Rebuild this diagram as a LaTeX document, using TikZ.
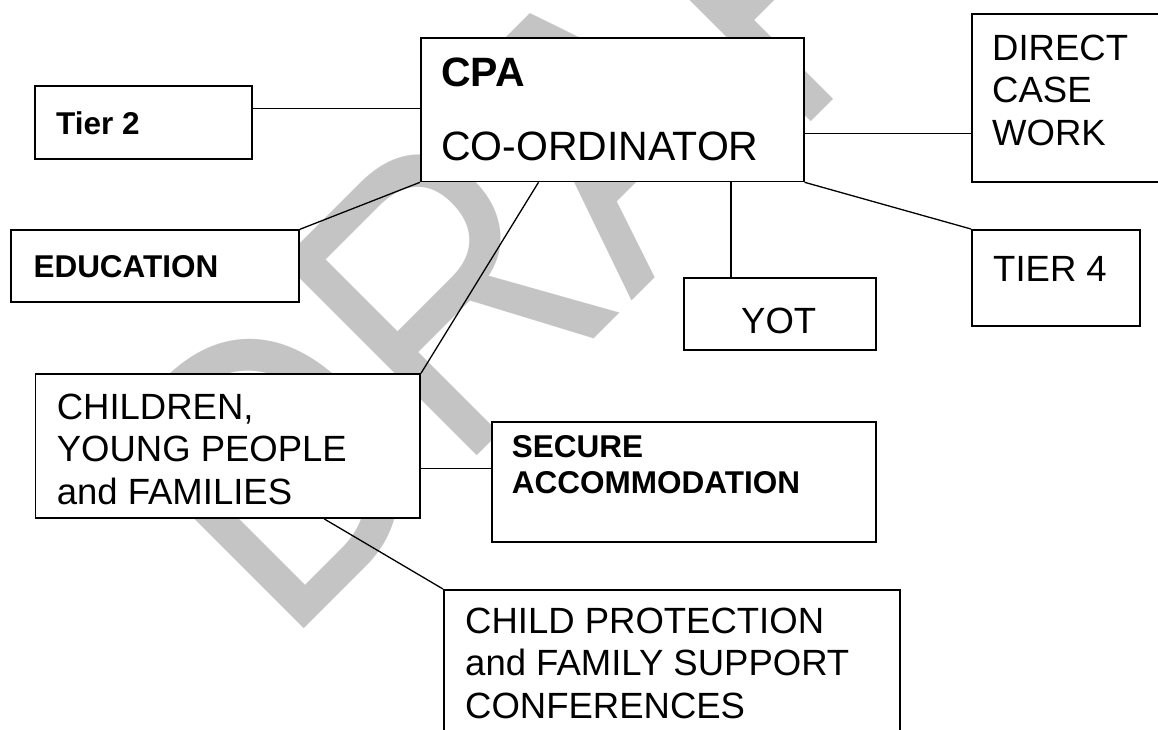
\documentclass[tikz,border=0pt]{standalone}
\usepackage{fontspec}
\setmainfont{Liberation Sans}
\usepackage{tikz}
\usetikzlibrary{calc}
\usetikzlibrary{positioning}
\definecolor{watermark}{RGB}{196,196,196}

\begin{document}
\begin{tikzpicture}[
x=1pt,y=-1pt,
MyBoxes/.style={draw=black,fill=white,line width=1.6pt,inner sep=0pt,anchor=north west},
Links/.style={draw=black,line width=1.3pt},
PlainText/.style={anchor=base west,inner sep=0pt,align=left,font=\fontsize{36.5}{42.5}\selectfont},
BoldText/.style={anchor=base west,inner sep=0pt,align=left,font=\fontsize{31.5}{36}\selectfont\bfseries},
MainText/.style={anchor=base west,inner sep=0pt,align=left,font=\fontsize{41}{47}\selectfont}
]
%\draw[gray,step=50,dotted] (0,0) grid (1158,729);
\useasboundingbox (0,0) rectangle (1158,729);
\clip (0,0) rectangle (1158,729);

\node[rotate=45,xscale=0.85,anchor=base west,inner sep=0pt,text=watermark,font=\fontsize{400}{400}\selectfont] (draft) at (284,649) {DRAFT};

% boxes
\node[MyBoxes,minimum width=217pt,minimum height=73pt] (tier2) at (34.4,85) {};
\node[MyBoxes,minimum width=383pt,minimum height=143.4pt] (cpa) at (420,37.3) {};
\node[MyBoxes,minimum width=220pt,minimum height=167.7pt] (direct) at (971,13.3) {};
\node[MyBoxes,minimum width=288pt,minimum height=71.7pt] (edu) at (10.3,229.3) {};
\node[MyBoxes,minimum width=168.3pt,minimum height=96pt] (tier4) at (971,229) {};
\node[MyBoxes,minimum width=192.4pt,minimum height=72.3pt] (yot) at (683,277) {};
\node[MyBoxes,minimum width=384.6pt,minimum height=144pt] (children) at (34.8,373.3) {};
\node[MyBoxes,minimum width=384.4pt,minimum height=119.7pt] (secure) at (491,421.3) {};
\node[MyBoxes,minimum width=456.4pt,minimum height=180pt] (cpconf) at (443,589) {};

% texts (anchored on the last line)
\node[BoldText] (tier2-t) at (56,134) {Tier 2};
\node[MainText] (cpa-t) at (441,160.7) {\bfseries CPA\\[27pt]CO-ORDINATOR};
\node[PlainText] (direct-t) at (992,145) {DIRECT\\CASE\\WORK};
\node[BoldText] (edu-t) at (33.3,277.7) {EDUCATION};
\node[PlainText] (tier4-t) at (993,281.7) {TIER 4};
\node[PlainText] (yot-t) at (741,333.3) {YOT};
\node[PlainText] (children-t) at (56.6,504) {CHILDREN,\\YOUNG PEOPLE\\and FAMILIES};
\node[BoldText] (secure-t) at (511.7,493.3) {SECURE\\ACCOMMODATION};
\node[PlainText] (cpconf-t) at (465,718.3) {CHILD PROTECTION\\and FAMILY SUPPORT\\CONFERENCES};

% links
\draw[Links] (tier2.east|-0,108.7) -- (cpa.west|-0,108.7);
\draw[Links] (cpa.east|-0,133.3) -- (direct.west|-0,133.3);
\draw[Links] (edu.north east) -- (cpa.south west);
\draw[Links] ($(cpa.south west)+(118.5,0)$) -- (children.north east);
\draw[Links] (cpa.south west-|731,0) -- (yot.north-|731,0);
\draw[Links] (cpa.south east) -- (tier4.north west);
\draw[Links] (children.east|-0,468.7) -- (secure.west|-0,468.7);
\draw[Links] ($(children.south west)+(289.4,0)$) -- (cpconf.north west);

\end{tikzpicture}
\end{document}
